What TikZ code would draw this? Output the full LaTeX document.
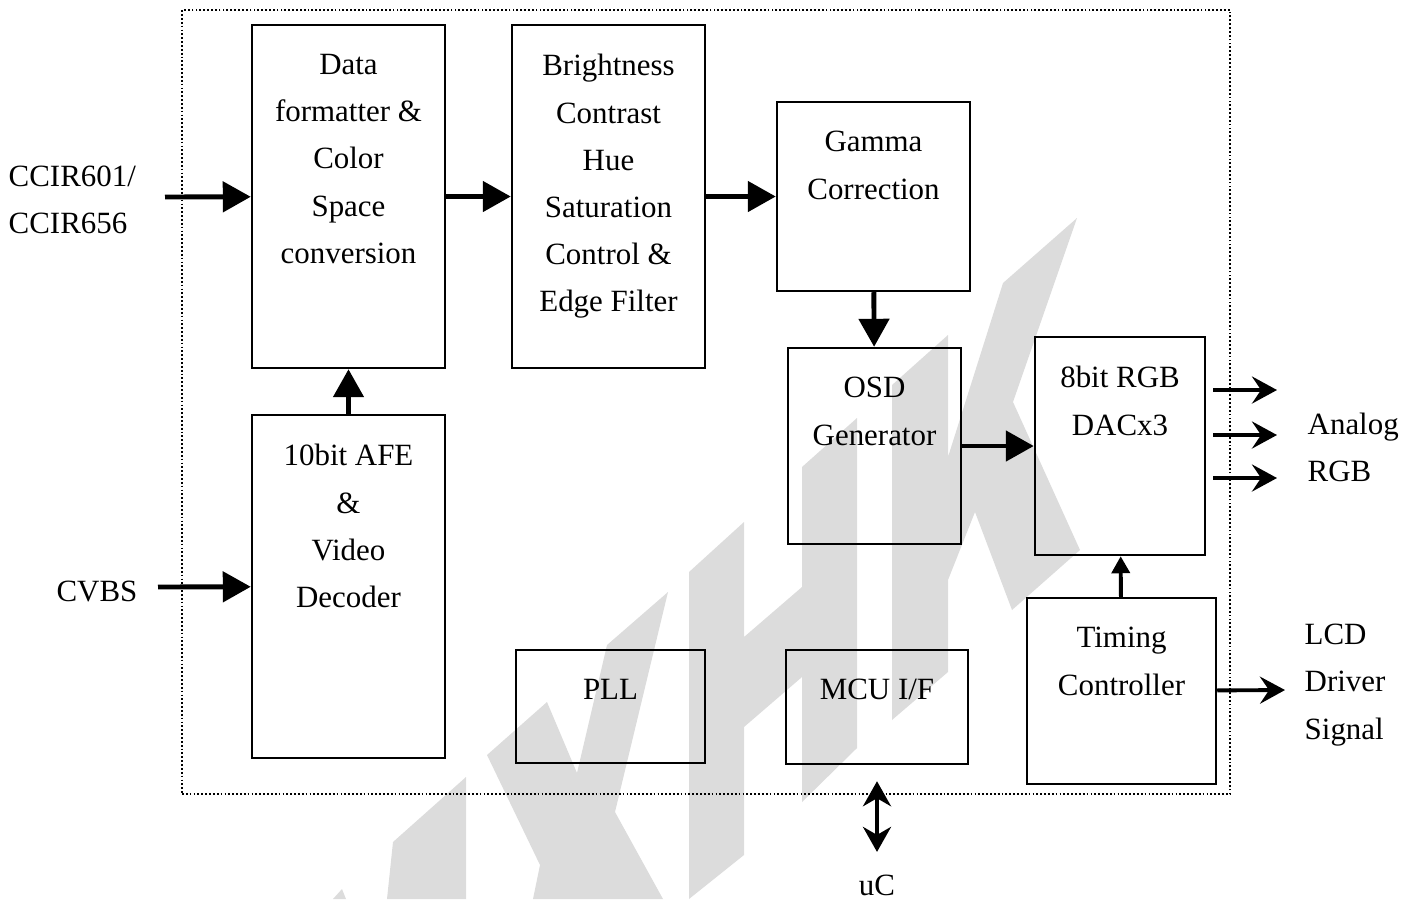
\documentclass[tikz,border=0pt]{standalone}
\usepackage{fontspec}
\setmainfont{Liberation Serif}
\usetikzlibrary{positioning,arrows.meta}
\definecolor{wmark}{HTML}{DCDCDC}

\begin{document}
\begin{tikzpicture}
  [x=0.1mm,y=-0.1mm,
   every node/.style={font=\fontsize{8.8}{13.4}\selectfont,inner sep=0pt},
   blk/.style={draw,line width=.7pt},
   txt/.style={align=center},
   bigarr/.style={line width=1.4pt,-{Triangle[length=2.8mm,width=3mm]}},
   smallarr/.style={line width=1.1pt,-{Triangle[length=1.7mm,width=1.8mm]}},
   outarr/.style={line width=1.1pt,-{Stealth[length=2.5mm,width=2.7mm,inset=.9mm]}},
   dblarr/.style={line width=1.1pt,{Stealth[length=2.5mm,width=2.8mm,inset=.8mm]}-{Stealth[length=2.5mm,width=2.8mm,inset=.8mm]}}]
  \useasboundingbox (0,0) rectangle (1416,899);

  % watermark
  \fill[wmark] (333,899) -- (342,889) -- (346,899) -- cycle;
  \fill[wmark] (393,842) -- (466,777) -- (466,899) -- (387,899) -- cycle;
  \fill[wmark] (487,755) -- (547,702) -- (577,773) -- (607,645) -- (668,592) -- (615,812)
    -- (663,899) -- (533,899) -- (540,865) -- cycle;
  \fill[wmark] (689,572) -- (744,522) -- (744,637) -- (802,587) -- (802,467) -- (857,418)
    -- (857,748) -- (802,802) -- (802,677) -- (744,727) -- (744,855) -- (689,899) -- cycle;
  \fill[wmark] (892,385) -- (948,335) -- (948,457) -- (1003,283) -- (1077,218) -- (1013,402)
    -- (1080,550) -- (1012,610) -- (975,512) -- (948,580) -- (948,672) -- (892,720) -- cycle;

  % chip outline
  \node[draw,line width=.6pt,dash pattern=on .5pt off .6pt,minimum width=104.8mm,minimum height=78.4mm] (chip) at (706,402) {};

  % blocks
  \node[blk,minimum width=19.3mm,minimum height=34.3mm] (df) at (348.5,196.5) {};
  \node[blk,minimum width=19.3mm,minimum height=34.3mm] (bc) at (608.5,196.5) {};
  \node[blk,minimum width=19.3mm,minimum height=18.9mm] (gc) at (873.5,196.5) {};
  \node[blk,minimum width=17.3mm,minimum height=19.6mm] (osd) at (874.5,446) {};
  \node[blk,minimum width=17mm,minimum height=21.8mm] (dac) at (1120,446) {};
  \node[blk,minimum width=19.3mm,minimum height=34.3mm] (afe) at (348.5,586.5) {};
  \node[blk,minimum width=18.9mm,minimum height=11.3mm] (pll) at (610.5,706.5) {};
  \node[blk,minimum width=18.2mm,minimum height=11.4mm] (mcu) at (877,707) {};
  \node[blk,minimum width=18.9mm,minimum height=18.6mm] (tc) at (1121.5,691) {};

  \node[txt,below=3mm of df.north] (dft) {Data\\formatter \&\\Color\\Space\\conversion};
  \node[txt,below=3mm of bc.north] (bct) {Brightness\\Contrast\\Hue\\Saturation\\Control \&\\Edge Filter};
  \node[txt,below=3mm of gc.north] (gct) {Gamma\\Correction};
  \node[txt,below=3mm of osd.north] (osdt) {OSD\\Generator};
  \node[txt,below=3mm of dac.north] (dact) {8bit RGB\\DACx3};
  \node[txt,below=3mm of afe.north] (afet) {10bit AFE\\\&\\Video\\Decoder};
  \node[txt,below=3mm of pll.north] (pllt) {PLL};
  \node[txt,below=3mm of mcu.north] (mcut) {MCU I/F};
  \node[txt,below=3mm of tc.north] (tct) {Timing\\Controller};

  % outside labels
  \node[anchor=west,align=left] (ccir) at (8,200) {CCIR601/\\CCIR656};
  \node (cvbs) at (97,591) {CVBS};
  \node[anchor=west,align=left] (argb) at (1307,447) {Analog\\RGB};
  \node[anchor=west,align=left] (lcd) at (1304,685) {LCD\\Driver\\Signal};
  \node (uc) at (877,885) {uC};

  \coordinate (ccin) at (165,197);
  \coordinate (cvin) at (158,587);
  \coordinate (lcdtip) at (1285,690);

  % connections
  \foreach \from/\to in {ccin/df,cvin/afe,df/bc,bc/gc,gc/osd,afe/df,osd/dac}
    \draw[bigarr] (\from) -- (\to);
  \draw[smallarr] (tc) -- (dac);
  \foreach \n/\y in {1/390,2/435,3/478}{
    \coordinate (ao\n) at (1277,\y);
    \draw[outarr,shorten <=.7mm] (dac.east |- ao\n) -- (ao\n);
  }
  \draw[outarr] (tc) -- (lcdtip);
  \draw[dblarr,shorten <=1.6mm,shorten >=2.2mm] (mcu) -- (uc);
\end{tikzpicture}
\end{document}
